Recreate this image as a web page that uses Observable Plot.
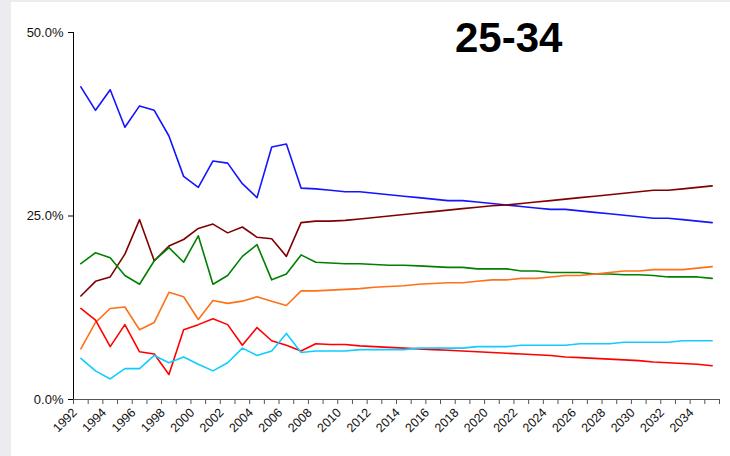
<!DOCTYPE html>
<html><head><meta charset="utf-8">
<script src="https://cdn.jsdelivr.net/npm/d3@7"></script>
<script src="https://cdn.jsdelivr.net/npm/@observablehq/plot@0.6"></script>
<style>
html,body{margin:0;padding:0;background:#ebebf0;width:730px;height:456px;overflow:hidden;}
#wrap{position:absolute;left:11px;top:2px;width:719px;height:454px;background:#fff;}
#title{position:absolute;left:444px;top:15px;font:bold 42px "Liberation Sans",Arial,sans-serif;line-height:1;color:#000;}
#chart svg text{font-family:"Liberation Sans",Arial,sans-serif;fill:#111;font-size:13px;}
#chart svg .xlab text{font-size:12.5px;}
</style></head><body>
<div id="wrap"><div id="chart"></div><div id="title">25-34</div></div>
<script>
const years = [1992,1993,1994,1995,1996,1997,1998,1999,2000,2001,2002,2003,2004,2005,2006,2007,2008,2009,2010,2011,2012,2013,2014,2015,2016,2017,2018,2019,2020,2021,2022,2023,2024,2025,2026,2027,2028,2029,2030,2031,2032,2033,2034,2035];
const labelYears = [1992,1994,1996,1998,2000,2002,2004,2006,2008,2010,2012,2014,2016,2018,2020,2022,2024,2026,2028,2030,2032,2034];
const yTicks = [0, 25, 50];

const blueSeries = [42.6,39.4,42.2,37.1,40.0,39.4,35.9,30.4,28.9,32.5,32.2,29.4,27.5,34.4,34.8,28.8,
  28.7,28.5,28.3,28.3,28.1,27.9,27.7,27.5,27.3,27.1,27.1,26.9,26.7,26.5,26.3,26.1,25.9,25.9,25.7,25.5,25.3,25.1,24.9,24.7,24.7,24.5,24.3,24.1];
const maroonSeries = [14.1,16.1,16.7,19.8,24.5,18.9,20.9,21.8,23.3,23.9,22.7,23.5,22.1,21.9,19.5,24.1,24.3,24.3,
  24.4,24.6,24.8,25.0,25.2,25.4,25.6,25.8,26.0,26.2,26.4,26.5,26.7,26.9,27.1,27.3,27.5,27.7,27.9,28.1,28.3,28.5,28.5,28.7,28.9,29.1];
const greenSeries = [18.5,20.0,19.3,16.9,15.7,18.9,20.7,18.7,22.3,15.7,16.9,19.5,21.1,16.3,17.1,19.7,
  18.7,18.6,18.5,18.5,18.4,18.3,18.3,18.2,18.1,18.0,18.0,17.8,17.8,17.8,17.5,17.5,17.3,17.3,17.3,17.1,17.1,17.0,17.0,16.9,16.7,16.7,16.7,16.5];
const orangeSeries = [6.9,10.5,12.4,12.6,9.5,10.5,14.6,14.0,10.9,13.5,13.1,13.4,14.0,13.4,12.8,14.8,
  14.8,14.9,15.0,15.1,15.3,15.4,15.5,15.7,15.8,15.9,15.9,16.1,16.3,16.3,16.5,16.5,16.7,16.9,16.9,17.1,17.3,17.5,17.5,17.7,17.7,17.7,17.9,18.1];
const redSeries = [12.4,10.8,7.2,10.2,6.5,6.2,3.4,9.5,10.2,11.0,10.2,7.4,9.8,8.0,7.4,6.6,
  7.6,7.5,7.5,7.3,7.2,7.1,7.0,6.9,6.8,6.7,6.6,6.5,6.4,6.3,6.2,6.1,6.0,5.8,5.7,5.6,5.5,5.4,5.3,5.1,5.0,4.9,4.8,4.6];
const cyanSeries = [5.6,3.9,2.8,4.2,4.2,6.0,5.0,5.8,4.8,3.9,5.0,7.0,6.0,6.6,9.0,6.4,
  6.6,6.6,6.6,6.8,6.8,6.8,6.8,7.0,7.0,7.0,7.0,7.2,7.2,7.2,7.4,7.4,7.4,7.4,7.6,7.6,7.6,7.8,7.8,7.8,7.8,8.0,8.0,8.0];

const seriesList = [
  {values: blueSeries, color: "#1414ff"},
  {values: maroonSeries, color: "#800000"},
  {values: greenSeries, color: "#008000"},
  {values: orangeSeries, color: "#ff7018"},
  {values: redSeries, color: "#ff0000"},
  {values: cyanSeries, color: "#10ccff"}
];

const boundaries = d3.range(years[0] - 0.5, years[years.length - 1] + 1, 1);

const chart = Plot.plot({
  width: 719, height: 454,
  marginLeft: 62, marginRight: 11, marginTop: 30, marginBottom: 57,
  style: {background: "#fff", fontFamily: "'Liberation Sans', Arial, sans-serif", fontSize: "13px", color: "#111"},
  x: {domain: [years[0] - 0.5, years[years.length - 1] + 0.5], axis: null},
  y: {domain: [0, 50], axis: null},
  marks: [
    Plot.axisY({ticks: yTicks, tickFormat: d => d.toFixed(1) + "%", tickSize: 5, tickPadding: 5, stroke: "#000"}),
    Plot.ruleX([years[0] - 0.5], {stroke: "#000", strokeWidth: 1}),
    Plot.axisX({ticks: boundaries, tickFormat: () => "", tickSize: 5, stroke: "#555"}),
    Plot.axisX({ticks: labelYears, tickFormat: d => String(d), tickSize: 0, tickRotate: -45, tickPadding: 11, dx: -6, className: "xlab"}),
    Plot.ruleY([0], {stroke: "#555", strokeWidth: 1}),
    ...seriesList.map(s => Plot.lineY(s.values, {x: years, stroke: s.color, strokeWidth: 1.6}))
  ]
});
document.getElementById("chart").appendChild(chart);
</script></body></html>
